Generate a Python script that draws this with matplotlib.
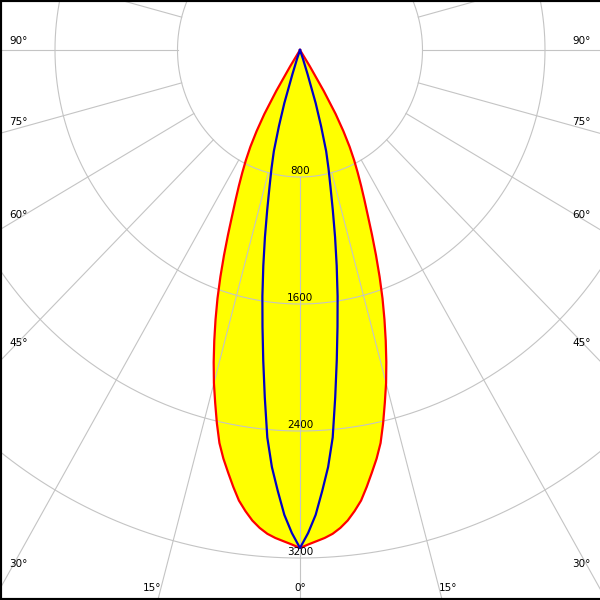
import numpy as np
import matplotlib.pyplot as plt

# gamma angles (deg) and luminous intensity (cd) for the two C-planes
gamma = list(range(0, 36))
c0_c180 = [3137, 3115, 3096, 3078, 3055, 3022, 2980, 2926, 2866, 2786,
           2703, 2622, 2531, 2413, 2290, 2172, 2045, 1915, 1785, 1655,
           1520, 1385, 1255, 1135, 1035, 945, 860, 778, 690, 585,
           465, 300, 120, 0, 0, 0]
c90_c270 = [3137, 3043, 2930, 2780, 2633, 2450, 2200, 1970, 1760, 1570,
            1380, 1200, 1030, 885, 770, 660, 500, 350, 160, 60,
            0, 0, 0, 0, 0, 0, 0, 0, 0, 0,
            0, 0, 0, 0, 0, 0]

ring_values = [800, 1600, 2400, 3200]
side_angles = [90, 75, 60, 45, 30]
bottom_angles = [-15, 0, 15]

# pixel scale of the original (slightly taller than wide)
px_x = 122.5 / 800
px_y = 127 / 800
half_w = 300 / px_x
top = 50 / px_y
bottom = 550 / px_y


def to_xy(ang_deg, r):
    a = np.radians(ang_deg)
    return r * np.sin(a), -r * np.cos(a)


def full_curve(vals):
    g = np.array(gamma)
    v = np.array(vals, dtype=float)
    ang = np.concatenate([-g[::-1], g[1:]])
    r = np.concatenate([v[::-1], v[1:]])
    return to_xy(ang, r)


fig = plt.figure(figsize=(6, 6), dpi=100)
ax = fig.add_axes([0, 0, 1, 1])
ax.set_xlim(-half_w, half_w)
ax.set_ylim(-bottom, top)
ax.set_aspect('auto')
ax.set_xticks([])
ax.set_yticks([])

grid_col = '#c4c4c4'

# rings
t = np.linspace(0, 2 * np.pi, 721)
for r in range(800, 5600, 800):
    ax.plot(r * np.sin(t), r * np.cos(t), color=grid_col, lw=0.8, zorder=2)

# radial lines every 15 deg, starting at the first ring
for a in range(0, 360, 15):
    x0, y0 = to_xy(a, 800)
    x1, y1 = to_xy(a, 6000)
    ax.plot([x0, x1], [y0, y1], color=grid_col, lw=0.8, zorder=2)

# distributions
xr, yr = full_curve(c0_c180)
ax.fill(xr, yr, color='#ffff00', zorder=1, lw=0)
ax.plot(xr, yr, color='#ff0000', lw=1.6, zorder=3)
xb, yb = full_curve(c90_c270)
ax.plot(xb, yb, color='#0000c8', lw=1.6, zorder=4)

fs = 7.5
for r in ring_values:
    ax.annotate(str(r), xy=(0, -r), xytext=(0, 4.5), textcoords='offset points',
                ha='center', va='center', fontsize=fs, zorder=5)

# side angle labels, just above where each ray leaves the frame
x_edge = half_w - 9 / px_x
for a in side_angles:
    y = -x_edge * np.cos(np.radians(a)) / np.sin(np.radians(a))
    for side, ha in ((-1, 'left'), (1, 'right')):
        ax.annotate(f'{a}°', xy=(side * x_edge, y), xytext=(0, 6.5),
                    textcoords='offset points', ha=ha, va='center', fontsize=fs, zorder=5)

# bottom angle labels
y_b = (588 - 50) / px_y
for a in bottom_angles:
    x = y_b * np.tan(np.radians(a))
    ha = 'center' if a == 0 else ('left' if a > 0 else 'right')
    ax.text(x, -y_b, f'{abs(a)}°', ha=ha, va='center', fontsize=fs, zorder=5)

for s in ('top', 'left', 'bottom'):
    ax.spines[s].set_linewidth(3)
    ax.spines[s].set_color('black')
ax.spines['right'].set_visible(False)

fig.savefig('out.png', dpi=100)
